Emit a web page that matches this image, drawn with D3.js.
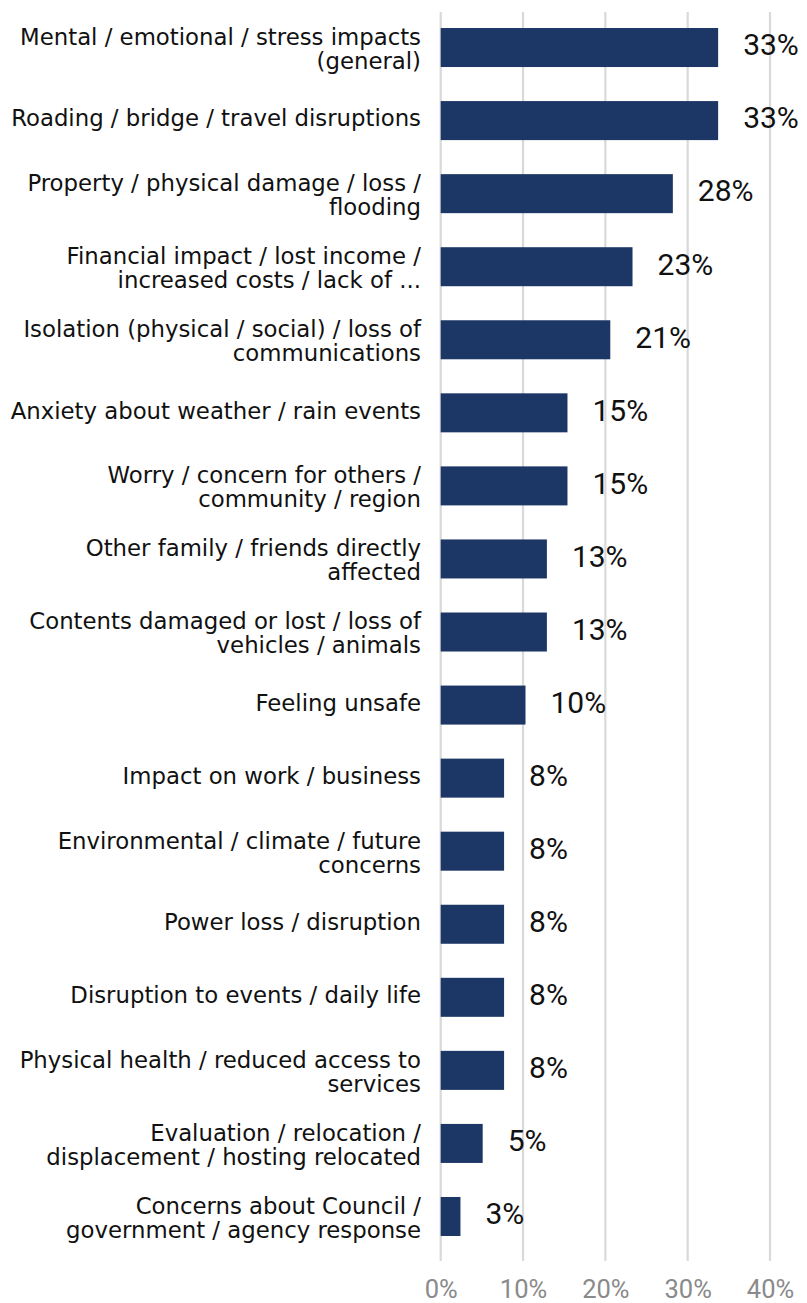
<!DOCTYPE html>
<html><head><meta charset="utf-8">
<script src="https://cdn.jsdelivr.net/npm/d3@7"></script>
<style>body{margin:0;background:#fff}svg{display:block}</style>
</head><body>
<svg id="c" width="807" height="1303"></svg>
<script>
const categories = [
  ["Mental / emotional / stress impacts","(general)"],
  ["Roading / bridge / travel disruptions"],
  ["Property / physical damage / loss /","flooding"],
  ["Financial impact / lost income /","increased costs / lack of ..."],
  ["Isolation (physical / social) / loss of","communications"],
  ["Anxiety about weather / rain events"],
  ["Worry / concern for others /","community / region"],
  ["Other family / friends directly","affected"],
  ["Contents damaged or lost / loss of","vehicles / animals"],
  ["Feeling unsafe"],
  ["Impact on work / business"],
  ["Environmental / climate / future","concerns"],
  ["Power loss / disruption"],
  ["Disruption to events / daily life"],
  ["Physical health / reduced access to","services"],
  ["Evaluation / relocation /","displacement / hosting relocated"],
  ["Concerns about Council /","government / agency response"]
];
const values = [33.7,33.7,28.2,23.3,20.6,15.4,15.4,12.9,12.9,10.3,7.7,7.7,7.7,7.7,7.7,5.1,2.4];
const valueLabels = ["33%","33%","28%","23%","21%","15%","15%","13%","13%","10%","8%","8%","8%","8%","8%","5%","3%"];
const ticks = [0,10,20,30,40];

const svg = d3.select("#c");
const numFont = "Roboto, 'Noto Sans', sans-serif";
const catFont = "'DejaVu Sans', sans-serif";
const x = d3.scaleLinear().domain([0,40]).range([440.7,770]);
const idx = d3.range(categories.length);
const y = d3.scaleBand().domain(idx).range([11, 11 + 17*73.06]).paddingInner(0.466).paddingOuter(0.233);

// gridlines
svg.append("g").selectAll("line").data(ticks).join("line")
  .attr("x1", d=>x(d)).attr("x2", d=>x(d)).attr("y1", 12).attr("y2", 1261)
  .attr("stroke", "#d9d9d9").attr("stroke-width", 2.2);

// x axis tick labels
const xa = svg.append("g").attr("transform","translate(0,1298)")
  .call(d3.axisBottom(x).tickValues(ticks).tickFormat(d=>d+"%").tickSize(0).tickPadding(0));
xa.select(".domain").remove();
xa.selectAll("text").attr("dy", 0).attr("font-family", numFont).attr("font-size", 25.5).attr("fill", "#8a8a8a");

// bars
svg.append("g").selectAll("rect").data(idx).join("rect")
  .attr("x", x(0)).attr("y", i=>y(i)).attr("height", y.bandwidth())
  .attr("width", i=>x(values[i])-x(0)).attr("fill", "#1c3765");

// value labels
svg.append("g").selectAll("text").data(idx).join("text")
  .attr("x", i=>x(values[i])+25).attr("y", i=>y(i)+y.bandwidth()/2).attr("dy","0.26em")
  .attr("font-family", numFont).attr("font-size", 30).attr("fill","#111")
  .text(i=>valueLabels[i]);

// category labels
const cl = svg.append("g").selectAll("text").data(idx).join("text")
  .attr("x", 421).attr("text-anchor","end")
  .attr("font-family", catFont).attr("font-size", 22.8).attr("fill","#111");
cl.each(function(i){
  const lines = categories[i];
  const c = y(i)+y.bandwidth()/2 + (lines.length > 1 ? 2.5 : -1);
  const lh = 24;
  const t = d3.select(this);
  lines.forEach((s,k)=>{
    t.append("tspan").attr("x",421).attr("y", c + (k-(lines.length-1)/2)*lh).attr("dy","0.3em").text(s);
  });
});
</script>
</body></html>
